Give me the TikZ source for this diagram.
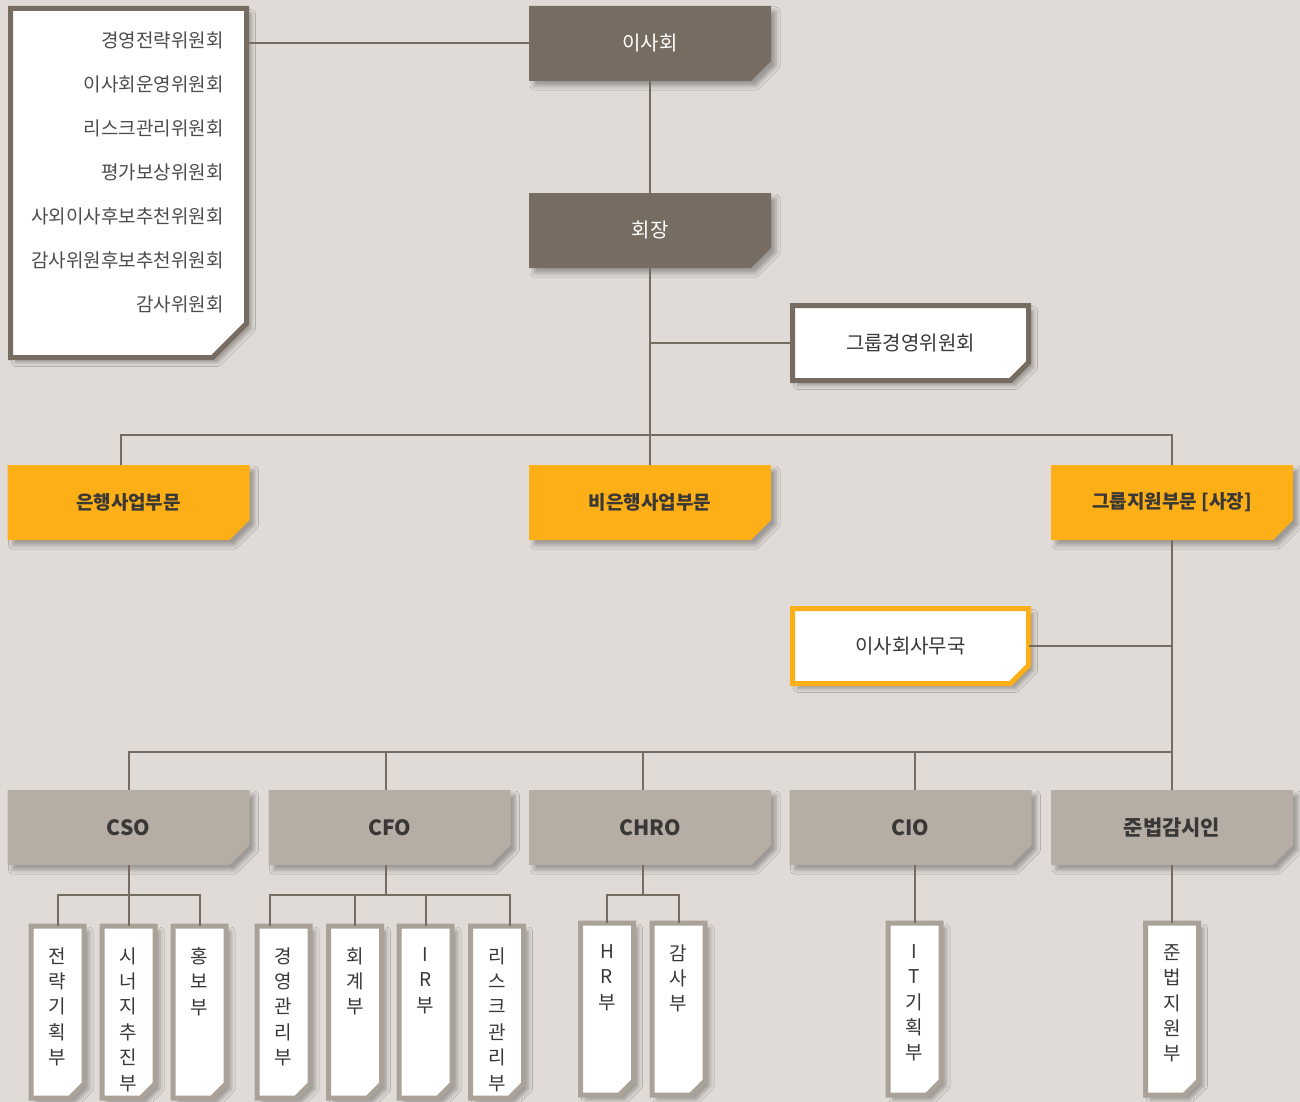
\documentclass[tikz,border=0pt]{standalone}
\usepackage{fontspec}
\setmainfont{Noto Sans CJK KR}
\usepackage{tikz}
\usetikzlibrary{positioning,backgrounds,shadows.blur}

\definecolor{paper}{HTML}{E0DBD6}
\definecolor{boardbrown}{HTML}{776C61}
\definecolor{amber}{HTML}{FCAF17}
\definecolor{stone}{HTML}{B6AEA5}
\definecolor{unitgray}{HTML}{AAA298}
\definecolor{ink}{HTML}{3A3836}

\begin{document}
\begin{tikzpicture}[x=0.5pt,y=-0.5pt,
  box/.style={rectangle,inner sep=0pt,outer sep=0pt,minimum width=121pt,minimum height=37.5pt},
  board/.style={box,text=white,font=\fontsize{10pt}{12pt}\selectfont},
  division/.style={box,text=ink,font=\fontsize{9.5pt}{12pt}\selectfont\bfseries},
  officer/.style={box,text=ink,font=\fontsize{10.5pt}{12pt}\selectfont\bfseries},
  panel/.style={box,minimum width=118pt,text=ink,font=\fontsize{10pt}{12pt}\selectfont},
  unit/.style={box,minimum width=26.5pt,minimum height=86pt},
  unittext/.style={align=center,inner sep=0pt,text=ink,
    font=\fontsize{9.5pt}{12.7pt}\selectfont},
  listtext/.style={align=right,inner sep=0pt,text=ink!90,
    font=\fontsize{9.5pt}{22pt}\selectfont},
  chamfer/.style 2 args={insert path={(#1.north west) -- (#1.north east)
    -- ([yshift=#2]#1.south east) -- ([xshift=-#2]#1.south east) -- (#1.south west) -- cycle}},
  shade/.style={blur shadow={shadow xshift=2.5pt,shadow yshift=-2.5pt,
    shadow blur radius=2pt,shadow opacity=30}},
  link/.style={draw=boardbrown,line width=1pt}]

  \useasboundingbox (0,0) rectangle (1300,1102);
  \clip (0,0) rectangle (1300,1102);

  % Vertice
  \node[board] (board) at (650,43.5) {이사회};
  \node[board] (chair) at (650,230.5) {회장};
  \node[panel,minimum height=174.5pt] (boardcomm) at (128.5,183) {};
  \node[listtext,anchor=north east] (commlist) at (224,31)
    {경영전략위원회\\이사회운영위원회\\리스크관리위원회\\평가보상위원회\\사외이사후보추천위원회\\감사위원후보추천위원회\\감사위원회};
  \node[panel] (gmc) at (910.5,343) {그룹경영위원회};

  % Parti
  \node[division] (bank) at (128.5,502.5) {은행사업부문};
  \node[division] (nonbank) at (650,502.5) {비은행사업부문};
  \node[division] (support) at (1172,502.5) {그룹지원부문 [사장]};
  \node[panel] (secretariat) at (910.5,646) {이사회사무국};

  % Dirigenti
  \node[officer] (cso) at (128.5,827.5) {CSO};
  \node[officer] (cfo) at (389.5,827.5) {CFO};
  \node[officer] (chro) at (650,827.5) {CHRO};
  \node[officer] (cio) at (910.5,827.5) {CIO};
  \node[officer] (compliance) at (1172,827.5) {준법감시인};

  % Uffici
  \node[unit] (u11) at (57.5,1012) {};
  \node[unit] (u12) at (128.5,1012) {};
  \node[unit] (u13) at (199.5,1012) {};
  \node[unit] (u21) at (283.5,1012) {};
  \node[unit] (u22) at (355,1012) {};
  \node[unit] (u23) at (425.5,1012) {};
  \node[unit] (u24) at (497,1012) {};
  \node[unit] (u31) at (607,1009) {};
  \node[unit] (u32) at (678.5,1009) {};
  \node[unit] (u41) at (914.5,1009) {};
  \node[unit] (u51) at (1172,1009) {};

  \node[unittext,below=10.5pt of u11.north] (u11t) {전\\략\\기\\획\\부};
  \node[unittext,below=10.5pt of u12.north] (u12t) {시\\너\\지\\추\\진\\부};
  \node[unittext,below=10.5pt of u13.north] (u13t) {홍\\보\\부};
  \node[unittext,below=10.5pt of u21.north] (u21t) {경\\영\\관\\리\\부};
  \node[unittext,below=10.5pt of u22.north] (u22t) {회\\계\\부};
  \node[unittext,below=10.5pt of u23.north] (u23t) {I\\R\\부};
  \node[unittext,below=10.5pt of u24.north] (u24t) {리\\스\\크\\관\\리\\부};
  \node[unittext,below=10.5pt of u31.north] (u31t) {H\\R\\부};
  \node[unittext,below=10.5pt of u32.north] (u32t) {감\\사\\부};
  \node[unittext,below=10.5pt of u41.north] (u41t) {I\\T\\기\\획\\부};
  \node[unittext,below=10.5pt of u51.north] (u51t) {준\\법\\지\\원\\부};

  % Sagome smussate
  \begin{scope}[on background layer]
    \clip (0,0) rectangle (1300,1102);
    \fill[paper] (0,0) rectangle (1300,1102);
    \foreach \n in {board,chair}
      \path[fill=boardbrown,shade,chamfer={\n}{10pt}];
    \foreach \n in {bank,nonbank,support}
      \path[fill=amber,shade,chamfer={\n}{10pt}];
    \foreach \n in {cso,cfo,chro,cio,compliance}
      \path[fill=stone,shade,chamfer={\n}{10pt}];
    \path[fill=white,draw=boardbrown,line width=2.5pt,shade,chamfer={boardcomm}{17pt}];
    \path[fill=white,draw=boardbrown,line width=2.5pt,shade,chamfer={gmc}{9pt}];
    \path[fill=white,draw=amber,line width=2.5pt,shade,chamfer={secretariat}{9pt}];
    \foreach \n in {u11,u12,u13,u21,u22,u23,u24,u31,u32,u41,u51}
      \path[fill=white,draw=unitgray,line width=2.5pt,shade,chamfer={\n}{7pt}];
  \end{scope}

  % Collegamenti
  \coordinate (divbus) at (650,435);
  \coordinate (offbus) at (650,752);
  \coordinate (unitbus) at (650,895);

  \path[link]
    (boardcomm.east |- board.west) edge (board.west)
    (board.south) edge (chair.north)
    (chair.south) edge (nonbank.north)
    (gmc.west) edge (gmc.west -| chair.south)
    (support.south) edge (compliance.north)
    (secretariat.east) edge (secretariat.east -| support.south);

  \draw[link] ([xshift=-4pt]bank.north) |- (divbus) -| (support.north);
  \draw[link] (cso.north) |- (offbus -| compliance.north);
  \draw[link] ([xshift=-2pt]cfo.north) -- ([xshift=-2pt]cfo.north |- offbus);
  \draw[link] ([xshift=-3.5pt]chro.north) -- ([xshift=-3.5pt]chro.north |- offbus);
  \draw[link] ([xshift=2pt]cio.north) -- ([xshift=2pt]cio.north |- offbus);

  \draw[link] (cso.south) -- (cso.south |- unitbus);
  \draw[link] (u11.north) |- (unitbus -| u13.north) -- (u13.north);
  \draw[link] (u12.north) -- (u12.north |- unitbus);
  \draw[link] ([xshift=-2pt]cfo.south) -- ([xshift=-2pt]cfo.south |- unitbus);
  \draw[link] ([xshift=-7pt]u21.north) |- (unitbus -| u24.north) -- ++(6.5pt,0) -- ([xshift=6.5pt]u24.north);
  \draw[link] (u22.north) -- (u22.north |- unitbus);
  \draw[link] (u23.north) -- (u23.north |- unitbus);
  \draw[link] ([xshift=-3.5pt]chro.south) -- ([xshift=-3.5pt]chro.south |- unitbus);
  \draw[link] (u31.north) |- (unitbus -| u32.north) -- (u32.north);
  \draw[link] (cio.south -| u41.north) -- (u41.north);
  \draw[link] (compliance.south) -- (u51.north);

\end{tikzpicture}
\end{document}
